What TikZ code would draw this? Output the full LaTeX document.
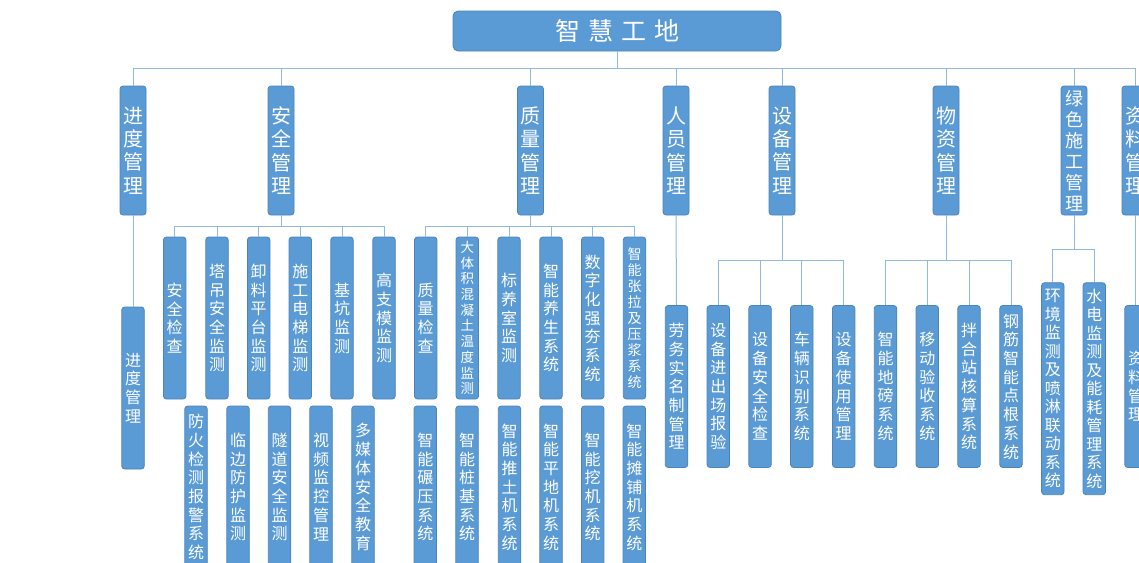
\documentclass[tikz,border=0pt]{standalone}
\usepackage{fontspec}
\setmainfont{Noto Sans CJK SC}
\definecolor{boxfill}{HTML}{5B9BD5}
\definecolor{boxline}{HTML}{4A84BC}
\definecolor{linec}{HTML}{8FB9E2}
\ExplSyntaxOn
\NewDocumentCommand\vt{m}{
  \seq_clear:N \l_tmpa_seq
  \tl_map_inline:nn {#1} { \seq_put_right:Nn \l_tmpa_seq {##1} }
  \seq_use:Nn \l_tmpa_seq {\\}
}
\ExplSyntaxOff
\tikzset{
  box/.style={fill=boxfill, draw=boxline, line width=0.8pt, rounded corners=3pt,
    text=white, align=center, inner sep=0pt},
  lone/.style={box, minimum width=26pt, minimum height=129pt,
    font=\fontsize{20}{23.3}\selectfont},
  ltwo/.style={box, minimum width=22.5pt, minimum height=162pt,
    font=\fontsize{16}{18.7}\selectfont},
  lsmall/.style={font=\fontsize{13.5}{15.7}\selectfont},
  lgreen/.style={box, minimum width=22.5pt, minimum height=212pt,
    font=\fontsize{16}{18.5}\selectfont},
  conn/.style={draw=linec, line width=1pt},
}
\begin{document}
\begin{tikzpicture}[x=1pt,y=-1pt]
\useasboundingbox (0,0) rectangle (1139,562);
\clip (0,0) rectangle (1139,562);
% root
\node[box, minimum width=328pt, minimum height=40pt, rounded corners=5pt,
  font=\fontsize{25}{30}\selectfont] (root) at (617,31)
  {智\hspace{8pt}慧\hspace{8pt}工\hspace{8pt}地};
% level 1
\node[lone] (p1) at (133,150.5) {\vt{进度管理}};
\node[lone] (p2) at (281,150.5) {\vt{安全管理}};
\node[lone] (p3) at (530.5,150.5) {\vt{质量管理}};
\node[lone] (p4) at (676,150.5) {\vt{人员管理}};
\node[lone] (p5) at (782,150.5) {\vt{设备管理}};
\node[lone] (p6) at (946,150.5) {\vt{物资管理}};
\node[lone, font=\fontsize{18}{21}\selectfont] (p7) at (1074,150.5) {\vt{绿色施工管理}};
\node[lone] (p8) at (1135,150.5) {\vt{资料管理}};
\coordinate (b0) at (617,68);
\foreach \n in {p1,p2,p3,p4,p5,p6,p7,p8}
  \draw[conn] (root.south) -- (b0) -| (\n.north);
% progress
\node[ltwo] (a1) at (133,388) {\vt{进度管理}};
\draw[conn] (p1.south) -- (a1.north);
% safety
\node[ltwo] (s1) at (174.7,318) {\vt{安全检查}};
\node[ltwo] (s2) at (217,318) {\vt{塔吊安全监测}};
\node[ltwo] (s3) at (258.7,318) {\vt{卸料平台监测}};
\node[ltwo] (s4) at (300.3,318) {\vt{施工电梯监测}};
\node[ltwo] (s5) at (342,318) {\vt{基坑监测}};
\node[ltwo] (s6) at (384,318) {\vt{高支模监测}};
\node[ltwo] (s7) at (196,487) {\vt{防火检测报警系统}};
\node[ltwo] (s8) at (238,487) {\vt{临边防护监测}};
\node[ltwo] (s9) at (279.5,487) {\vt{隧道安全监测}};
\node[ltwo] (s10) at (321,487) {\vt{视频监控管理}};
\node[ltwo] (s11) at (363,487) {\vt{多媒体安全教育}};
\coordinate (b2) at (281,226.7);
\foreach \n in {s1,s2,s3,s4,s5,s6}
  \draw[conn] (p2.south) -- (b2) -| (\n.north);
% quality
\node[ltwo] (q1) at (425.7,318) {\vt{质量检查}};
\node[ltwo, lsmall] (q2) at (467.3,318) {\vt{大体积混凝土温度监测}};
\node[ltwo] (q3) at (509,318) {\vt{标养室监测}};
\node[ltwo] (q4) at (551,318) {\vt{智能养生系统}};
\node[ltwo] (q5) at (592.7,318) {\vt{数字化强夯系统}};
\node[ltwo, font=\fontsize{14}{16}\selectfont] (q6) at (634.5,318) {\vt{智能张拉及压浆系统}};
\node[ltwo] (q7) at (425.3,487) {\vt{智能碾压系统}};
\node[ltwo] (q8) at (467,487) {\vt{智能桩基系统}};
\node[ltwo] (q9) at (509.5,487) {\vt{智能推土机系统}};
\node[ltwo] (q10) at (551,487) {\vt{智能平地机系统}};
\node[ltwo] (q11) at (592.7,487) {\vt{智能挖机系统}};
\node[ltwo] (q12) at (634.3,487) {\vt{智能摊铺机系统}};
\coordinate (b3) at (530.5,226.7);
\foreach \n in {q1,q2,q3,q4,q5,q6}
  \draw[conn] (p3.south) -- (b3) -| (\n.north);
% personnel
\node[ltwo] (r1) at (676.5,386.5) {\vt{劳务实名制管理}};
\draw[conn] (p4.south) -- (r1.north);
% equipment
\node[ltwo] (e1) at (718.3,386.5) {\vt{设备进出场报验}};
\node[ltwo] (e2) at (760,386.5) {\vt{设备安全检查}};
\node[ltwo] (e3) at (801.8,386.5) {\vt{车辆识别系统}};
\node[ltwo] (e4) at (843.7,386.5) {\vt{设备使用管理}};
\coordinate (b5) at (782,260.7);
\foreach \n in {e1,e2,e3,e4}
  \draw[conn] (p5.south) -- (b5) -| (\n.north);
% materials
\node[ltwo] (m1) at (885.5,386.5) {\vt{智能地磅系统}};
\node[ltwo] (m2) at (927.3,386.5) {\vt{移动验收系统}};
\node[ltwo] (m3) at (969,386.5) {\vt{拌合站核算系统}};
\node[ltwo] (m4) at (1011,386.5) {\vt{钢筋智能点根系统}};
\coordinate (b6) at (946,260.7);
\foreach \n in {m1,m2,m3,m4}
  \draw[conn] (p6.south) -- (b6) -| (\n.north);
% green
\node[lgreen] (g1) at (1052.8,388.7) {\vt{环境监测及喷淋联动系统}};
\node[lgreen] (g2) at (1094.3,388.7) {\vt{水电监测及能耗管理系统}};
\coordinate (b7) at (1074,249.3);
\foreach \n in {g1,g2}
  \draw[conn] (p7.south) -- (b7) -| (\n.north);
% documents
\node[ltwo] (h1) at (1136,386.5) {\vt{资料管理}};
\draw[conn] (p8.south) -- (p8.south |- h1.north);
\end{tikzpicture}
\end{document}
